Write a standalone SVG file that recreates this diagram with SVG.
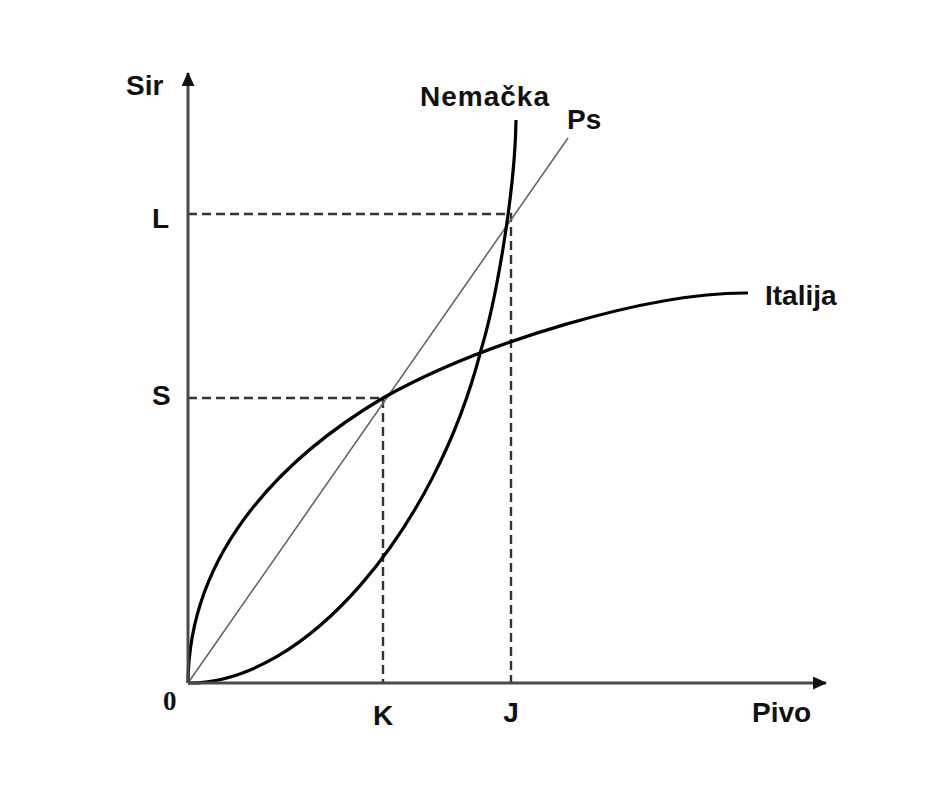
<svg xmlns="http://www.w3.org/2000/svg" width="937" height="806" viewBox="0 0 937 806">
<style>
.lbl{font-family:"Liberation Sans",Arial,sans-serif;font-weight:bold;font-size:28px;fill:#111}
.axis{stroke:#4a4a4a;stroke-width:3;fill:none}
.curve{stroke:#000;stroke-width:3.2;fill:none}
.ps{stroke:#666;stroke-width:1.6;fill:none}
.dash{stroke:#333;stroke-width:2.4;stroke-dasharray:9 5;fill:none}
</style>
<defs>
<marker id="arr" viewBox="0 0 14 13" refX="13" refY="6.5" markerWidth="14" markerHeight="13" markerUnits="userSpaceOnUse" orient="auto">
<path d="M0,0 L14,6.5 L0,13 Z" fill="#111"/>
</marker>
</defs>
<rect width="937" height="806" fill="#fff"/>
<g id="connectors">
<path class="dash" d="M188,214 H511 V683"/>
<path class="dash" d="M188,398 H383 V683"/>
<line class="ps" x1="188" y1="683" x2="568" y2="138"/>
<path class="curve" d="M188,683 C189,545 292,452 383,398 C483,342 650,292 748,293"/>
<path class="curve" d="M188,683 C305,684 435,530 481,350 C497,297 515,190 516,120"/>
<line class="axis" x1="188" y1="683" x2="188" y2="73" marker-end="url(#arr)"/>
<line class="axis" x1="188" y1="683" x2="826" y2="683" marker-end="url(#arr)"/>
</g>
<g id="labels">
<text class="lbl" x="126" y="95">Sir</text>
<text class="lbl" x="420" y="106" letter-spacing="1">Nemačka</text>
<text class="lbl" x="567" y="129" font-size="25">Ps</text>
<text class="lbl" x="152" y="228" font-size="26">L</text>
<text class="lbl" x="152" y="405" font-size="26">S</text>
<text x="163" y="710" font-family="Liberation Serif,'Times New Roman',serif" font-weight="bold" font-size="27" fill="#111">0</text>
<text class="lbl" x="383" y="725" font-size="25" text-anchor="middle">K</text>
<text class="lbl" x="511" y="722" font-size="25" text-anchor="middle">J</text>
<text class="lbl" x="752" y="722">Pivo</text>
<text class="lbl" x="765" y="305">Italija</text>
</g>
</svg>
